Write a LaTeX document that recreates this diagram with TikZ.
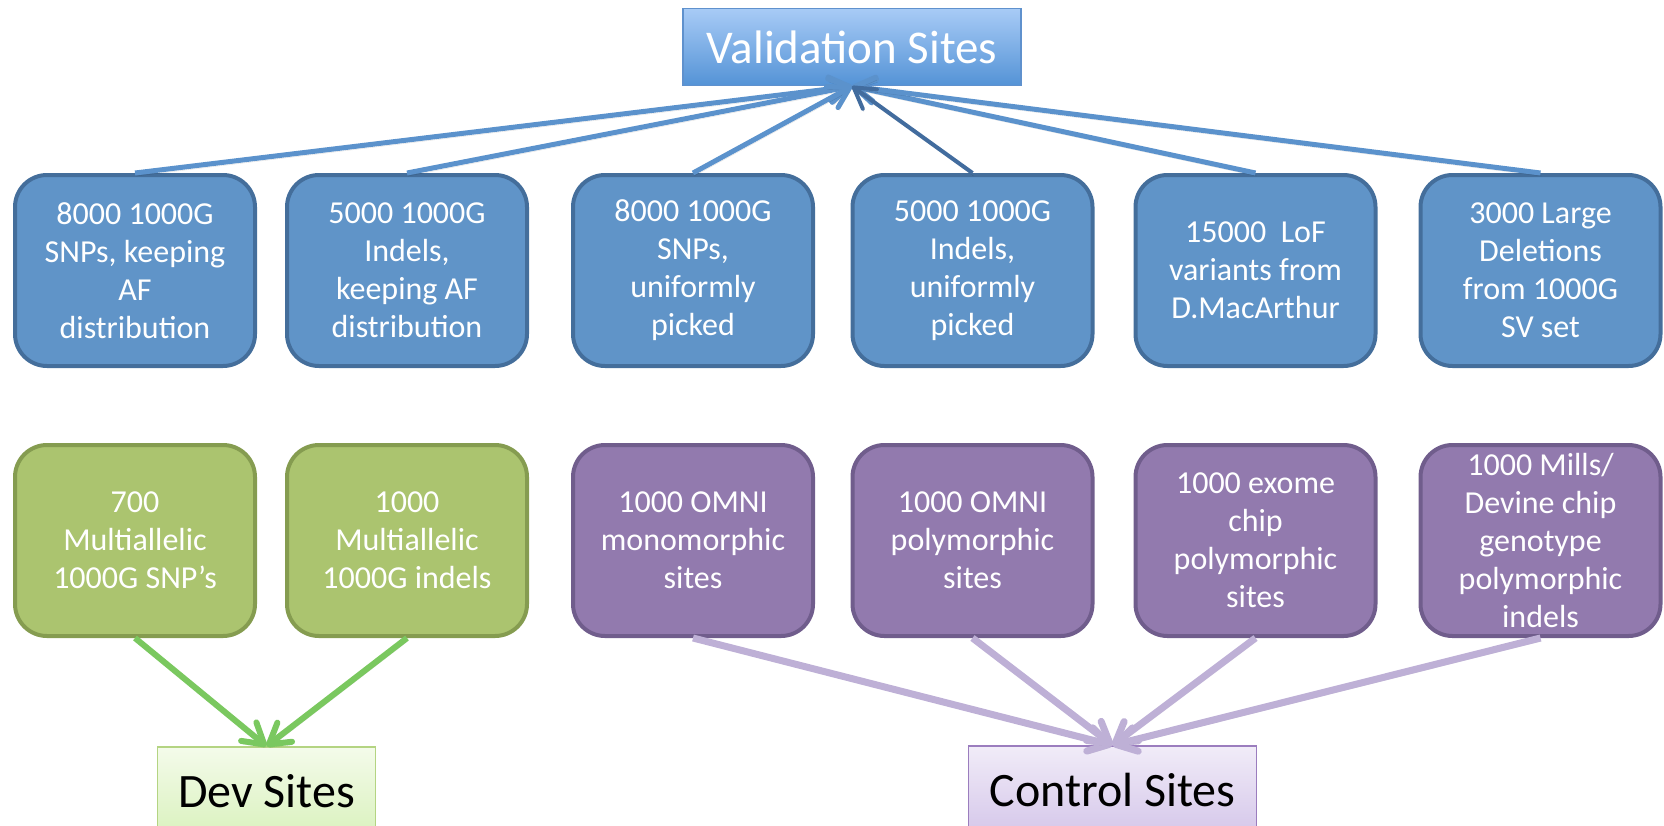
\documentclass[tikz,border=0pt]{standalone}
\usepackage{fontspec}
\setmainfont{Carlito}
\usetikzlibrary{arrows.meta}
\definecolor{blueFill}{RGB}{96,148,200}
\definecolor{blueBorder}{RGB}{68,110,155}
\definecolor{arrowBlue}{RGB}{91,146,204}
\definecolor{arrowBlueDark}{RGB}{66,108,158}
\definecolor{greenFill}{RGB}{171,196,111}
\definecolor{greenBorder}{RGB}{133,156,80}
\definecolor{greenArrow}{RGB}{122,200,95}
\definecolor{purpleFill}{RGB}{146,122,174}
\definecolor{purpleBorder}{RGB}{112,93,140}
\definecolor{purpleArrow}{RGB}{190,176,214}
\definecolor{devTop}{RGB}{244,251,234}
\definecolor{devBot}{RGB}{218,242,190}
\definecolor{devBorder}{RGB}{180,212,130}
\definecolor{ctrlTop}{RGB}{241,236,248}
\definecolor{ctrlBot}{RGB}{213,199,234}
\definecolor{ctrlBorder}{RGB}{155,125,190}
\definecolor{valTop}{RGB}{168,203,246}
\definecolor{valBot}{RGB}{84,147,214}
\definecolor{valBorder}{RGB}{95,145,205}
\tikzset{
  itembox/.style={rounded corners=32pt, line width=4pt, minimum width=240pt,
    minimum height=191pt, align=center, text=white, inner sep=0pt,
    font=\fontsize{32}{38}\selectfont},
  bluebox/.style={itembox, fill=blueFill, draw=blueBorder},
  greenbox/.style={itembox, fill=greenFill, draw=greenBorder},
  purplebox/.style={itembox, fill=purpleFill, draw=purpleBorder},
  headbox/.style={line width=1.5pt, inner sep=0pt, font=\fontsize{48}{52}\selectfont},
  vtip/.style={-{Straight Barb[length=20pt,width=24pt,round]}},
  shadowed/.style={preaction={draw=black, opacity=0.12, transform canvas={shift={(1pt,-3pt)}}}},
  bluearrow/.style={vtip, line width=5pt, draw=arrowBlue, shadowed},
  bluearrowdark/.style={vtip, line width=4pt, draw=arrowBlueDark, shadowed},
  greenarrow/.style={vtip, line width=6pt, draw=greenArrow, shadowed},
  purplearrow/.style={vtip, line width=7pt, draw=purpleArrow, shadowed}
}
\begin{document}
\begin{tikzpicture}[x=1pt,y=-1pt]
\useasboundingbox (0,0) rectangle (1664,825);

% header boxes
\node[headbox, minimum width=338pt, minimum height=77pt, draw=valBorder,
  top color=valTop, bottom color=valBot, text=white, font=\fontsize{47}{52}\selectfont] (val) at (852,47) {Validation Sites};
\node[headbox, minimum width=218pt, minimum height=88pt, draw=devBorder,
  top color=devTop, bottom color=devBot, text=black] (dev) at (266.5,791) {Dev Sites};
\node[headbox, minimum width=288pt, minimum height=88pt, draw=ctrlBorder,
  top color=ctrlTop, bottom color=ctrlBot, text=black] (ctrl) at (1112.5,790) {Control Sites};

% top row
\node[bluebox] (t1) at (135,270.5) {8000 1000G\\SNPs, keeping\\AF\\distribution};
\node[bluebox] (t2) at (407,270.5) {5000 1000G\\Indels,\\keeping AF\\distribution};
\node[bluebox] (t3) at (693,270.5) {8000 1000G\\SNPs,\\uniformly\\picked};
\node[bluebox] (t4) at (972.5,270.5) {5000 1000G\\Indels,\\uniformly\\picked};
\node[bluebox] (t5) at (1255.5,270.5) {15000\ \ LoF\\variants from\\D.MacArthur};
\node[bluebox] (t6) at (1540.5,270.5) {3000 Large\\Deletions\\from 1000G\\SV set};

% bottom row
\node[greenbox] (b1) at (135,540.5) {700\\Multiallelic\\1000G SNP’s};
\node[greenbox] (b2) at (407,540.5) {1000\\Multiallelic\\1000G indels};
\node[purplebox] (b3) at (693,540.5) {1000 OMNI\\monomorphic\\sites};
\node[purplebox] (b4) at (972.5,540.5) {1000 OMNI\\polymorphic\\sites};
\node[purplebox] (b5) at (1255.5,540.5) {1000 exome\\chip\\polymorphic\\sites};
\node[purplebox] (b6) at (1540.5,540.5) {1000 Mills/\\Devine chip\\genotype\\polymorphic\\indels};

% connectors
\foreach \i in {1,2,3,5,6} \draw[bluearrow] (t\i.north) -- (val.south);
\draw[bluearrowdark] (t4.north) -- (val.south);
\foreach \i in {1,2} \draw[greenarrow] (b\i.south) -- (dev.north);
\foreach \i in {3,4,5,6} \draw[purplearrow] (b\i.south) -- (ctrl.north);
\end{tikzpicture}
\end{document}
